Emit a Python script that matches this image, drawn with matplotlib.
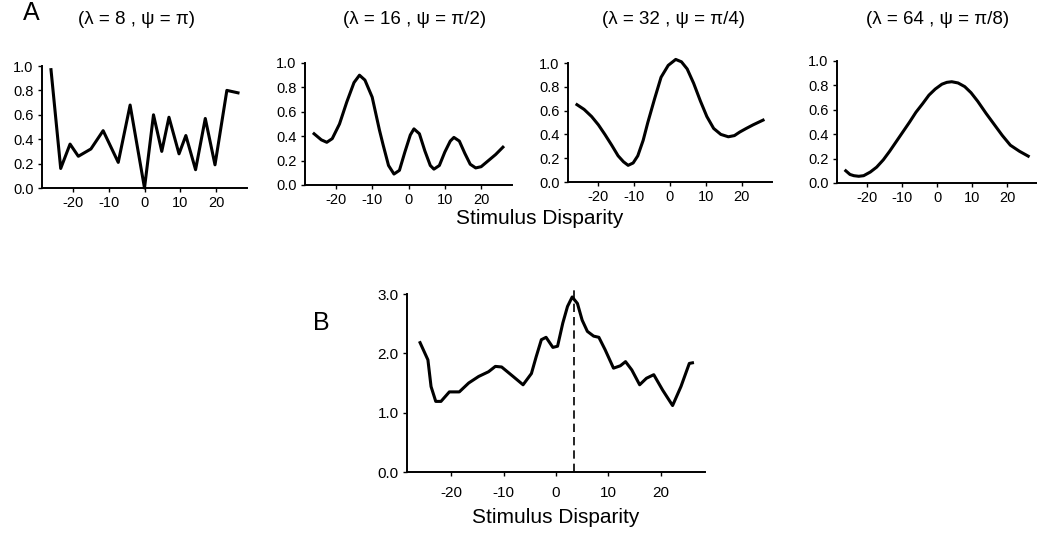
import matplotlib
matplotlib.use("Agg")
import matplotlib.pyplot as plt

plt.rcParams['font.family'] = ['Liberation Sans', 'DejaVu Sans']

# panel A: tuning curves for four scales
titles = ["(\u03bb = 8 , \u03c8 = \u03c0)", "(\u03bb = 16 , \u03c8 = \u03c0/2)",
          "(\u03bb = 32 , \u03c8 = \u03c0/4)", "(\u03bb = 64 , \u03c8 = \u03c0/8)"]

x_l8 = [-26, -23.3, -20.7, -18.4, -14.9, -11.5, -7.3, -4.0, 0.0, 2.5, 4.8, 6.8,
        9.6, 11.5, 14.2, 16.9, 19.6, 22.9, 26]
y_l8 = [0.97, 0.16, 0.36, 0.26, 0.32, 0.47, 0.21, 0.68, 0.0, 0.60, 0.30, 0.58,
        0.28, 0.43, 0.15, 0.57, 0.19, 0.80, 0.78]

x_l16 = [-26, -24, -22.5, -21, -19, -17, -15, -13.5, -12, -10, -8, -7, -5.5, -4,
         -2.5, -1, 0.5, 1.5, 3, 4.5, 6, 7, 8.5, 10, 11.5, 12.5, 14, 15.5, 17,
         18.5, 20, 22, 24, 26]
y_l16 = [0.42, 0.37, 0.35, 0.38, 0.50, 0.68, 0.84, 0.90, 0.86, 0.72, 0.45, 0.33,
         0.16, 0.09, 0.12, 0.27, 0.41, 0.46, 0.42, 0.28, 0.16, 0.13, 0.16, 0.27,
         0.36, 0.39, 0.36, 0.26, 0.17, 0.14, 0.15, 0.20, 0.25, 0.31]

x_l32 = [-26, -24, -21.9, -20, -18.2, -16.3, -14.5, -13, -11.7, -10.3, -9, -7.5,
         -6.2, -4.3, -2.5, -0.5, 1.6, 3.2, 4.8, 6.6, 8.5, 10.3, 12.2, 14.2, 16.3,
         18, 19.5, 21.3, 23.2, 26]
y_l32 = [0.65, 0.61, 0.55, 0.48, 0.40, 0.31, 0.22, 0.17, 0.14, 0.16, 0.22, 0.35,
         0.50, 0.70, 0.88, 0.98, 1.03, 1.01, 0.95, 0.83, 0.68, 0.55, 0.45, 0.40,
         0.38, 0.39, 0.42, 0.45, 0.48, 0.52]

x_l64 = [-26, -24.8, -23.7, -22.3, -20.9, -19, -17.2, -15.3, -13.5, -11.6, -9.7,
         -7.8, -6, -4.1, -2.3, -0.5, 1.4, 2.8, 4.2, 6, 7.9, 9.7, 11.6, 14, 16.3,
         18.6, 20.9, 23.5, 26]
y_l64 = [0.10, 0.07, 0.06, 0.055, 0.06, 0.09, 0.13, 0.19, 0.26, 0.34, 0.42,
         0.50, 0.58, 0.65, 0.72, 0.77, 0.81, 0.825, 0.83, 0.82, 0.79, 0.74, 0.67,
         0.57, 0.48, 0.39, 0.31, 0.26, 0.22]

curves_x = [x_l8, x_l16, x_l32, x_l64]
curves_y = [y_l8, y_l16, y_l32, y_l64]

# panel B: summed response
x_sum = [-26, -24.5, -23.9, -23, -22, -20.4, -18.5, -16.7, -14.8, -12.9, -11.6,
         -10.4, -8.2, -6.3, -4.7, -3.8, -2.8, -1.9, -0.6, 0.3, 1.3, 2.2, 3.1,
         4.1, 5.0, 6.0, 7.2, 8.2, 9.4, 11, 12.3, 13.3, 14.5, 16, 17.3, 18.7,
         20.4, 22.3, 23.9, 25.5, 26.1]
y_sum = [2.18, 1.89, 1.44, 1.19, 1.19, 1.35, 1.35, 1.50, 1.61, 1.69, 1.78,
         1.77, 1.61, 1.47, 1.66, 1.94, 2.23, 2.27, 2.10, 2.12, 2.51, 2.79, 2.95,
         2.84, 2.56, 2.37, 2.29, 2.27, 2.06, 1.75, 1.79, 1.86, 1.72, 1.47, 1.58,
         1.64, 1.38, 1.12, 1.44, 1.83, 1.84]
true_disp = 3.5

xticks = [-20, -10, 0, 10, 20]

W, H = 1037, 535
fig = plt.figure(figsize=(W / 100, H / 100), dpi=100)


def box(left, right, top, bottom):
    return [left / W, 1 - bottom / H, (right - left) / W, (bottom - top) / H]


def style(ax, yticks, ylabels, size):
    for s in ['top', 'right']:
        ax.spines[s].set_visible(False)
    for s in ['left', 'bottom']:
        ax.spines[s].set_linewidth(1.4)
    ax.set_xlim(-28.5, 28.5)
    ax.set_xticks(xticks)
    ax.set_xticklabels([str(t) for t in xticks])
    ax.set_yticks(yticks)
    ax.set_yticklabels(ylabels)
    ax.tick_params(direction='out', length=3, width=1, labelsize=size, pad=3)


boxes_a = [box(42, 247, 66, 188), box(305, 512, 63, 185),
           box(568, 772, 63, 182), box(837, 1037, 61, 183)]
title_x = [137, 415, 673, 938]
ya = [0, 0.2, 0.4, 0.6, 0.8, 1.0]

for i in range(4):
    ax = fig.add_axes(boxes_a[i])
    ax.plot(curves_x[i], curves_y[i], color='black', lw=2.2, clip_on=False,
            solid_joinstyle='round')
    ax.set_ylim(0, 1.0)
    style(ax, ya, ["%.1f" % v for v in ya], 10.5)
    fig.text(title_x[i] / W, 1 - 20 / H, titles[i], ha='center', va='center',
             fontsize=13.5)

fig.text(540 / W, 1 - 219 / H, "Stimulus Disparity", ha='center', va='center',
         fontsize=15)
fig.text(31 / W, 1 - 13 / H, "A", ha='center', va='center', fontsize=18)

axb = fig.add_axes(box(407, 705, 294, 472))
axb.plot(x_sum, y_sum, color='black', lw=2.2, clip_on=False,
         solid_joinstyle='round')
axb.plot([true_disp, true_disp], [0, 3.1], color='black', lw=1.2,
         linestyle=(0, (5, 3)), clip_on=False)
axb.set_ylim(0, 3.0)
yb = [0, 1, 2, 3]
style(axb, yb, ["%.1f" % v for v in yb], 11)
axb.tick_params(axis='x', pad=7)
axb.set_xlabel("Stimulus Disparity", fontsize=15, labelpad=6)
fig.text(321 / W, 1 - 323 / H, "B", ha='center', va='center', fontsize=18)

fig.savefig("out.png", dpi=100)
